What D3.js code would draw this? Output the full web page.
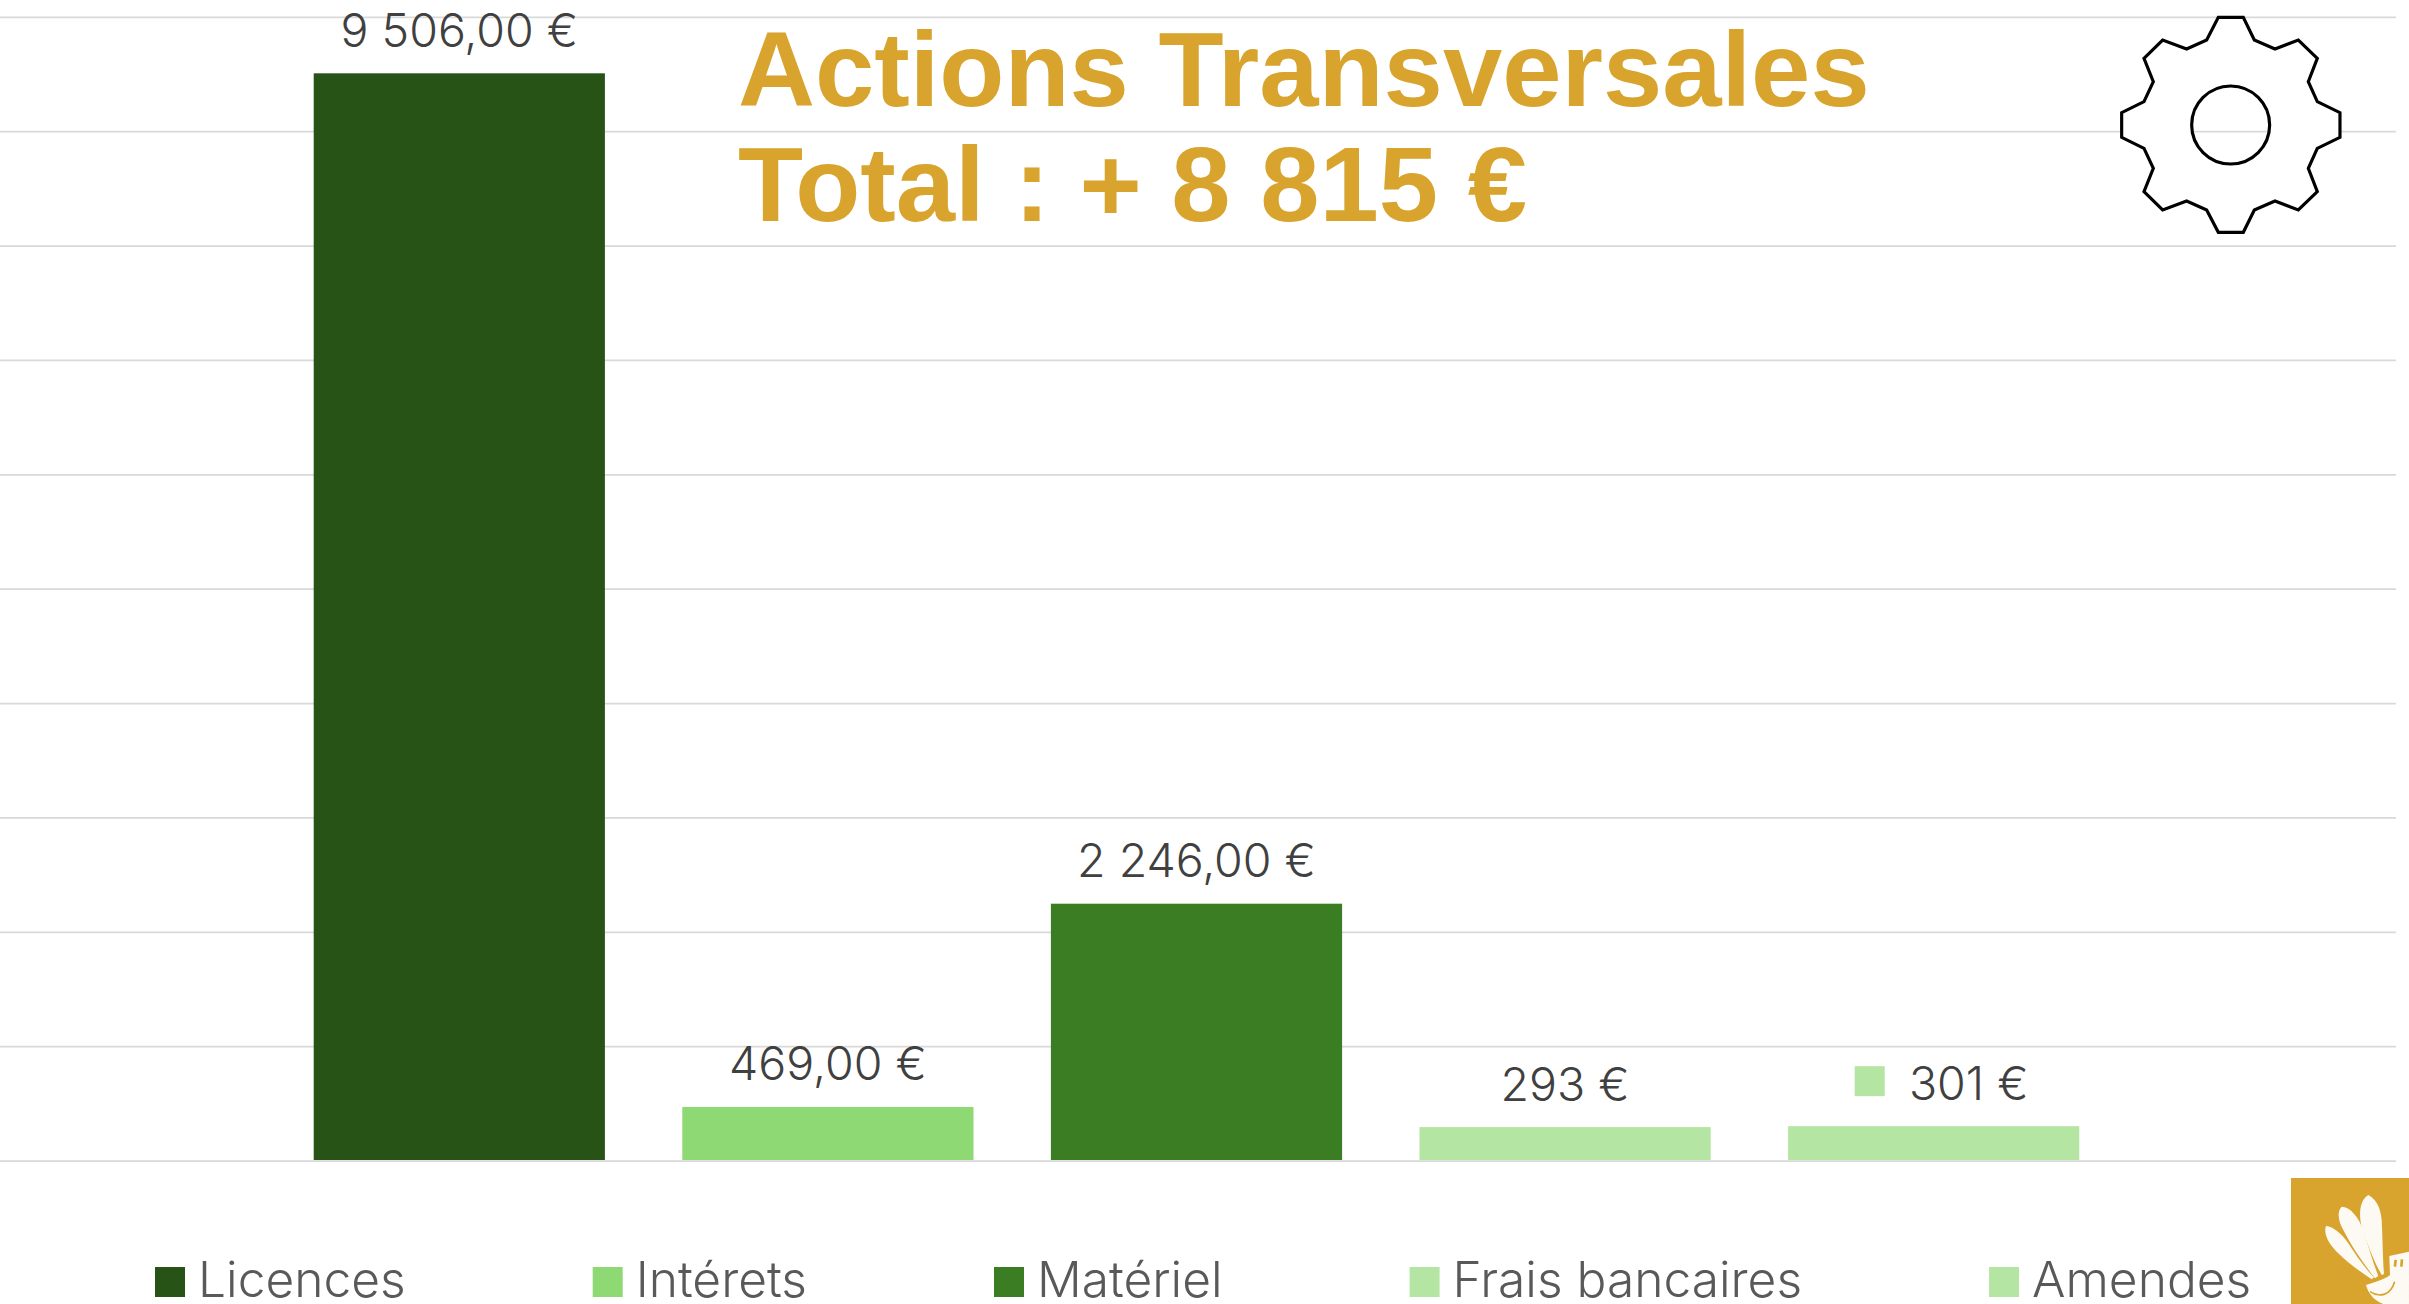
<!DOCTYPE html>
<html lang="fr">
<head>
<meta charset="utf-8">
<title>Actions Transversales</title>
<script src="https://cdn.jsdelivr.net/npm/d3@7"></script>
<style>
  html, body { margin: 0; padding: 0; background: #fff; overflow: hidden; }
  svg { display: block; font-family: "Liberation Sans", Arial, sans-serif; }
  .value, .legend-label { font-family: Inter, "Liberation Sans", sans-serif; font-weight: 350; }
</style>
</head>
<body>
<div id="chart"></div>
<script>
// Data
const categories = ["Licences", "Intérets", "Matériel", "Frais bancaires", "Amendes"];
const values = [9506, 469, 2246, 293, 301];
const valueLabels = ["9 506,00 €", "469,00 €", "2 246,00 €", "293 €", "301 €"];
const barColors = ["#275317", "#8ED973", "#3B7D23", "#B4E5A2", "#B4E5A2"];
const titleLines = ["Actions Transversales", "Total : + 8 815 €"];

const w = 2409;
const h = 1304;
const gold = "#D8A42E";

const svg = d3.select("#chart")
  .append("svg")
  .attr("width", w)
  .attr("height", h);

// Scales
const xScale = d3.scaleBand()
  .domain(categories)
  .range([275, 2118])
  .paddingInner(0.21)
  .paddingOuter(0.105);

const yScale = d3.scaleLinear()
  .domain([0, 10000])
  .range([1160.6, 16.8]);

const color = d3.scaleOrdinal().domain(categories).range(barColors);

// Gridlines, drawn with the axis ticks
const grid = svg.append("g")
  .attr("transform", "translate(2396, 0)")
  .call(d3.axisLeft(yScale).tickValues(d3.range(0, 10001, 1000)).tickSize(2396).tickFormat(""));
grid.select(".domain").remove();
grid.selectAll("line").attr("stroke", "#D9D9D9").attr("stroke-width", 1.8);

// Bars
svg.selectAll("rect.bar")
  .data(categories)
  .enter()
  .append("rect")
  .attr("class", "bar")
  .attr("x", (d) => xScale(d))
  .attr("y", (d, i) => yScale(values[i]))
  .attr("width", xScale.bandwidth())
  .attr("height", (d, i) => yScale(0) - yScale(values[i]) - 0.6)
  .attr("fill", (d) => color(d));

// Value labels
svg.selectAll("text.value")
  .data(categories)
  .enter()
  .append("text")
  .attr("class", "value")
  .attr("x", (d, i) => xScale(d) + xScale.bandwidth() / 2 + (i === 4 ? 35 : 0))
  .attr("y", (d, i) => yScale(values[i]) - 26.5)
  .attr("text-anchor", "middle")
  .attr("font-size", 46.5)
  .attr("fill", "#404040")
  .text((d, i) => valueLabels[i]);

// Legend key left inside the last data label
svg.append("rect")
  .attr("x", xScale("Amendes") + xScale.bandwidth() / 2 - 79)
  .attr("y", yScale(values[4]) - 60)
  .attr("width", 30)
  .attr("height", 30)
  .attr("fill", color("Amendes"));

// Title
svg.selectAll("text.title")
  .data(titleLines)
  .enter()
  .append("text")
  .attr("class", "title")
  .attr("x", 738)
  .attr("y", (d, i) => 106 + i * 115)
  .attr("font-size", 106.6)
  .attr("font-weight", "bold")
  .attr("fill", gold)
  .text((d) => d);

// Legend: each entry follows the last one with the same gap
let legendX = 155;
categories.forEach((c) => {
  svg.append("rect")
    .attr("x", legendX)
    .attr("y", 1267)
    .attr("width", 30)
    .attr("height", 30)
    .attr("fill", color(c));
  const label = svg.append("text")
    .attr("class", "legend-label")
    .attr("x", legendX + 43)
    .attr("y", 1297)
    .attr("font-size", 49.7)
    .attr("fill", "#595959")
    .text(c);
  legendX += 43 + label.node().getComputedTextLength() + 187;
});

// Gear icon, the hole lets the gridline show through
const gearOutline = [
  [415, 52], [490, 52], [523, 120], [585, 147], [655, 120], [712, 175], [685, 245], [712, 305],
  [780, 338], [780, 412], [712, 445], [685, 505], [712, 575], [655, 630], [585, 603], [523, 630],
  [490, 697], [415, 697], [380, 630], [320, 603], [248, 630], [192, 575], [220, 505], [192, 445],
  [125, 412], [125, 338], [192, 305], [220, 245], [192, 175], [248, 120], [320, 147], [380, 120]
];
const gearPath = "M" + gearOutline.map((p) => p.join(",")).join("L") + "Z"
  + "M335,375a117,117 0 1,0 234,0a117,117 0 1,0 -234,0Z";
svg.append("path")
  .attr("transform", "translate(2080, 0) scale(0.3333)")
  .attr("d", gearPath)
  .attr("fill", "#fff")
  .attr("fill-rule", "evenodd")
  .attr("stroke", "#000")
  .attr("stroke-width", 9.5);

// Logo in the bottom right corner
svg.append("rect")
  .attr("x", 2291)
  .attr("y", 1178)
  .attr("width", 118)
  .attr("height", 126)
  .attr("fill", gold);

const logo = svg.append("g")
  .attr("transform", "translate(2200, 1150) scale(0.3333)")
  .attr("fill", "#FCFAF3");
logo.append("path").attr("d", "M505 135C480 150 475 190 485 230C500 280 525 340 545 375L552 372C548 320 548 260 545 210C542 170 525 145 505 135Z");
logo.append("path").attr("d", "M425 170C410 185 415 215 430 240C455 290 490 340 525 385L535 378C520 340 505 290 490 240C475 200 450 170 425 170Z");
logo.append("path").attr("d", "M378 228C370 250 385 280 410 305C440 335 480 365 515 388L522 382C490 350 465 310 445 280C425 250 400 230 378 228Z");
logo.append("path").attr("d", "M498 405C530 395 560 385 570 375L568 318L627 305L627 462L550 462C520 450 505 430 498 405Z");
logo.append("path")
  .attr("d", "M510 425C540 445 572 435 584 395")
  .attr("fill", "none")
  .attr("stroke", gold)
  .attr("stroke-width", 5);
logo.append("path")
  .attr("d", "M585 350L587 330M604 350L606 328")
  .attr("fill", "none")
  .attr("stroke", gold)
  .attr("stroke-width", 8);
</script>
</body>
</html>
